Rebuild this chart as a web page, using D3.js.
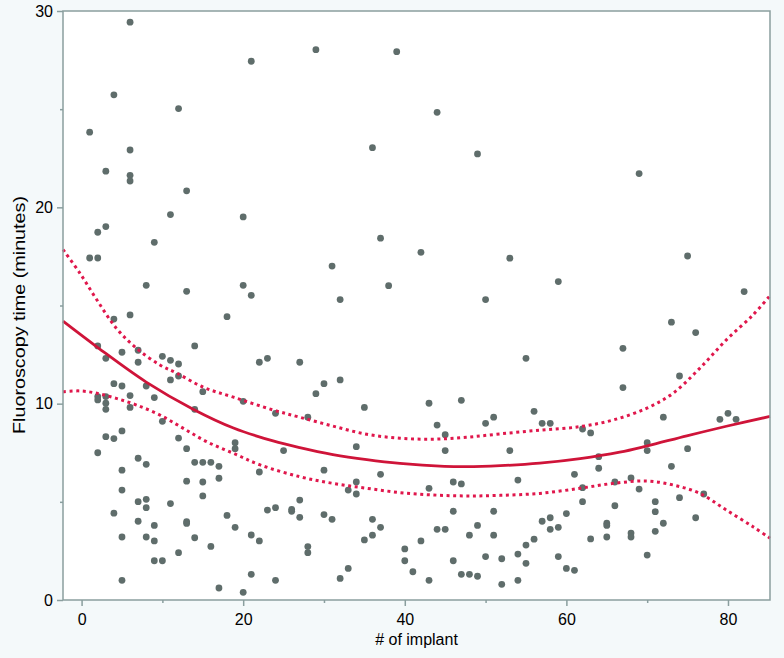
<!DOCTYPE html>
<html>
<head>
<meta charset="utf-8">
<script src="https://cdn.jsdelivr.net/npm/d3@7"></script>
<style>
  html, body { margin: 0; padding: 0; background: #f4f9fa; }
  svg { display: block; }
</style>
</head>
<body>
<div id="chart"></div>
<script>
  // ── Data ──
  // implant number and fluoroscopy time (minutes) per case
  var implantNo = [
    6, 21, 4, 12, 1, 6, 3, 6, 6, 13, 11, 20, 3, 2, 9, 1, 2, 8, 13, 20, 21,
    29, 39, 44, 36, 49, 37, 42, 53, 31, 38, 32, 50,
    69, 75, 59, 82,
    4, 6, 18, 2, 3, 5, 7, 7, 10, 11, 12, 11, 12, 14, 15, 22, 23, 27, 20, 24,
    4, 5, 6, 6, 8, 9, 10, 2, 2, 3, 3, 3, 14, 3, 4, 5, 2, 12, 13, 19, 19, 25,
    5, 7, 8, 14, 15, 16, 17, 13, 15, 17, 22, 5, 15, 7, 8, 8, 11, 4, 7, 13, 13,
    9, 18, 23, 24, 26, 26, 27, 27, 5, 8, 9, 14, 19, 21, 22, 16, 9, 10, 12, 5,
    17, 20, 21, 24,
    30, 32, 29, 35, 28, 34, 30, 37, 34, 33, 34, 30, 31, 28, 28, 32, 33, 36, 37,
    36, 35, 43, 44, 45, 45, 47, 50, 51, 53, 55, 56, 43, 46, 47, 54, 46, 44, 45,
    51, 49, 48, 51, 40, 40, 42, 41, 43, 46, 47, 48, 49, 50, 52, 52, 54, 54, 55,
    55, 56,
    73, 76, 67, 67, 74, 72, 79, 80, 81, 57, 58, 62, 63, 70, 70, 75, 64, 64, 61,
    73, 62, 66, 68, 69, 77, 62, 66, 60, 57, 58, 58, 59, 65, 65, 63, 65, 68, 68,
    71, 71, 71, 72, 74, 76, 59, 60, 61, 70
  ];
  var fluoroTime = [
    29.43, 27.44, 25.73, 25.03, 23.83, 22.92, 21.84, 21.63, 21.34, 20.84, 19.63, 19.51, 19.02, 18.73, 18.22, 17.42, 17.42, 16.03, 15.72, 16.03, 15.52,
    28.03, 27.93, 24.84, 23.04, 22.72, 18.43, 17.71, 17.41, 17.01, 16.01, 15.3, 15.3,
    21.72, 17.52, 16.22, 15.71,
    14.31, 14.52, 14.43, 12.94, 12.31, 12.62, 12.72, 12.11, 12.41, 12.21, 12.02, 11.21, 11.41, 12.94, 10.61, 12.11, 12.31, 12.11, 10.12, 9.51,
    11.02, 10.9, 10.41, 9.81, 10.9, 10.31, 9.1, 10.36, 10.19, 10.36, 10.02, 9.71, 9.71, 8.32, 8.22, 8.61, 7.5, 8.25, 7.71, 8.01, 7.71, 7.61,
    6.61, 7.22, 6.91, 7.01, 7.01, 7.01, 6.81, 6.05, 6.01, 6.2, 6.52, 5.6, 5.3, 5.01, 5.13, 4.7, 4.91, 4.42, 4.01, 3.99, 3.9,
    3.8, 4.31, 4.58, 4.7, 4.62, 4.52, 5.09, 4.21, 3.21, 3.21, 3.01, 3.17, 3.7, 3.31, 3.01, 2.73, 2.0, 2.0, 2.41, 1.0,
    0.61, 0.39, 1.31, 1.0,
    11.02, 11.21, 10.51, 9.81, 9.31, 7.81, 6.61, 6.4, 6.01, 5.6, 5.4, 4.35, 4.11, 2.72, 2.41, 1.1, 1.61, 4.11, 3.7,
    3.3, 3.06, 10.02, 8.91, 8.42, 7.61, 10.17, 9.0, 9.31, 7.61, 12.31, 9.61, 5.69, 6.01, 5.91, 6.11, 4.52, 3.6, 3.6,
    4.52, 3.8, 3.3, 3.3, 2.6, 2.0, 3.01, 1.44, 1.0, 2.0, 1.31, 1.31, 1.21, 2.21, 2.1, 0.8, 2.34, 1.0, 1.87,
    2.8, 3.1,
    14.15, 13.62, 12.82, 10.82, 11.41, 9.31, 9.2, 9.51, 9.2, 9.0, 9.0, 8.71, 8.51, 8.01, 7.61, 7.71, 7.3, 6.71, 6.4,
    6.81, 5.72, 6.01, 6.22, 5.65, 5.4, 5.01, 4.8, 4.4, 4.01, 4.19, 3.6, 3.7, 3.91, 3.8, 3.11, 3.21, 3.41, 3.21,
    5.01, 4.5, 3.5, 3.91, 5.21, 4.19, 2.21, 1.61, 1.51, 2.29
  ];

  // fitted curve and its confidence band, sampled from the figure
  var fitX   = [-2.3, 2, 8, 13.8, 18.8, 23.7, 27, 31.1, 35.3, 39.4, 44.9, 47.6, 51.8, 56.7, 61.7, 66.6, 69.9, 74.9, 79.8, 85.2];
  var fitY   = [14.2, 12.86, 11.1, 9.72, 8.76, 8.1, 7.76, 7.41, 7.15, 6.96, 6.81, 6.79, 6.84, 6.97, 7.2, 7.53, 7.84, 8.36, 8.85, 9.35];
  var upperX = [-2.3, -0.2, 1.9, 4.3, 6.8, 9.7, 11.8, 15.1, 18.8, 23.7, 27, 31.1, 35.3, 39.4, 43.5, 47.6, 51.8, 56.7, 61.7, 65.8, 69.9, 73.2, 76.5, 79.8, 83.1, 85.2];
  var upperY = [17.85, 16.64, 15.28, 13.84, 12.82, 11.97, 11.55, 10.83, 10.33, 9.68, 9.31, 8.86, 8.44, 8.24, 8.19, 8.29, 8.46, 8.65, 8.83, 9.17, 9.76, 10.53, 11.8, 13.25, 14.52, 15.5];
  var lowerX = [-2.3, -0.2, 1.9, 4.3, 6.8, 9.7, 12.6, 15.5, 18.8, 22.1, 27, 31.1, 35.3, 39.4, 43.5, 47.6, 51.8, 56.7, 61.7, 65.8, 69.9, 73.2, 76.5, 79.8, 83.1, 85.2];
  var lowerY = [10.61, 10.65, 10.53, 10.27, 9.93, 9.42, 8.74, 8.06, 7.47, 6.88, 6.28, 5.94, 5.69, 5.47, 5.35, 5.3, 5.33, 5.43, 5.69, 5.94, 6.06, 5.86, 5.43, 4.58, 3.73, 3.15];

  var xTicksMajor = [0, 20, 40, 60, 80];
  var xTicksMinor = [10, 30, 50, 70];
  var yTicksMajor = [0, 10, 20, 30];
  var yTicksMinor = [5, 15, 25];

  // ── Layout ──
  var WIDTH = 784, HEIGHT = 658;
  var PLOT = { left: 63, right: 770, top: 11, bottom: 600 };
  var AXIS_COLOR = '#8a9e9e';
  var DOT_COLOR = '#5f6d6b';
  var FIT_COLOR = '#cf1439';
  var BAND_COLOR = '#e0174c';
  var FONT = 'Liberation Sans, Arial, Helvetica, sans-serif';

  var x = d3.scaleLinear().domain([-2.3, 85.2]).range([PLOT.left, PLOT.right]);
  var y = d3.scaleLinear().domain([0, 30]).range([PLOT.bottom, PLOT.top]);

  var svg = d3.select('#chart').append('svg')
    .attr('width', WIDTH)
    .attr('height', HEIGHT);

  svg.append('rect')
    .attr('width', WIDTH).attr('height', HEIGHT)
    .attr('fill', '#f4f9fa');

  svg.append('rect')
    .attr('x', PLOT.left).attr('y', PLOT.top)
    .attr('width', PLOT.right - PLOT.left)
    .attr('height', PLOT.bottom - PLOT.top)
    .attr('fill', '#ffffff');

  // ── Points ──
  var points = implantNo.map(function (n, i) { return { n: n, t: fluoroTime[i] }; });

  svg.append('g')
    .selectAll('circle')
    .data(points)
    .join('circle')
    .attr('cx', function (d) { return x(d.n); })
    .attr('cy', function (d) { return y(d.t); })
    .attr('r', 3.4)
    .attr('fill', DOT_COLOR);

  // ── Fit and band ──
  function series(xs, ys) {
    return xs.map(function (v, i) { return [v, ys[i]]; });
  }
  var line = d3.line()
    .x(function (d) { return x(d[0]); })
    .y(function (d) { return y(d[1]); })
    .curve(d3.curveCatmullRom);

  [series(upperX, upperY), series(lowerX, lowerY)].forEach(function (s) {
    svg.append('path')
      .attr('d', line(s))
      .attr('fill', 'none')
      .attr('stroke', BAND_COLOR)
      .attr('stroke-width', 3)
      .attr('stroke-dasharray', '3,3.6');
  });

  svg.append('path')
    .attr('d', line(series(fitX, fitY)))
    .attr('fill', 'none')
    .attr('stroke', FIT_COLOR)
    .attr('stroke-width', 2.8);

  // ── Frame ──
  svg.append('rect')
    .attr('x', PLOT.left).attr('y', PLOT.top)
    .attr('width', PLOT.right - PLOT.left)
    .attr('height', PLOT.bottom - PLOT.top)
    .attr('fill', 'none')
    .attr('stroke', AXIS_COLOR)
    .attr('stroke-width', 1.5);

  // ── Axes ──
  var xAxis = svg.append('g')
    .attr('transform', 'translate(0,' + PLOT.bottom + ')')
    .call(d3.axisBottom(x).tickValues(xTicksMajor).tickSize(6).tickPadding(4).tickFormat(d3.format('d')));
  svg.append('g')
    .attr('transform', 'translate(0,' + PLOT.bottom + ')')
    .call(d3.axisBottom(x).tickValues(xTicksMinor).tickSize(3).tickFormat(''));

  svg.append('g')
    .attr('transform', 'translate(' + PLOT.left + ',0)')
    .call(d3.axisLeft(y).tickValues(yTicksMajor).tickSize(6).tickPadding(4).tickFormat(d3.format('d')));
  svg.append('g')
    .attr('transform', 'translate(' + PLOT.left + ',0)')
    .call(d3.axisLeft(y).tickValues(yTicksMinor).tickSize(3).tickFormat(''));

  svg.selectAll('.domain').remove();
  svg.selectAll('.tick line').attr('stroke', AXIS_COLOR).attr('stroke-width', 1.5);
  svg.selectAll('.tick text')
    .attr('fill', '#000')
    .attr('font-family', FONT)
    .attr('font-size', '16px');
  xAxis.selectAll('.tick text').attr('dy', '0.71em').attr('y', 14);

  // ── Axis titles ──
  svg.append('text')
    .attr('x', (PLOT.left + PLOT.right) / 2)
    .attr('y', 645)
    .attr('text-anchor', 'middle')
    .attr('font-family', FONT)
    .attr('font-size', '16px')
    .attr('fill', '#000')
    .text('# of implant');

  svg.append('text')
    .attr('transform', 'translate(25,315) rotate(-90)')
    .attr('text-anchor', 'middle')
    .attr('font-family', FONT)
    .attr('font-size', '17px')
    .attr('textLength', 238)
    .attr('lengthAdjust', 'spacingAndGlyphs')
    .attr('fill', '#000')
    .text('Fluoroscopy time (minutes)');
</script>
</body>
</html>
